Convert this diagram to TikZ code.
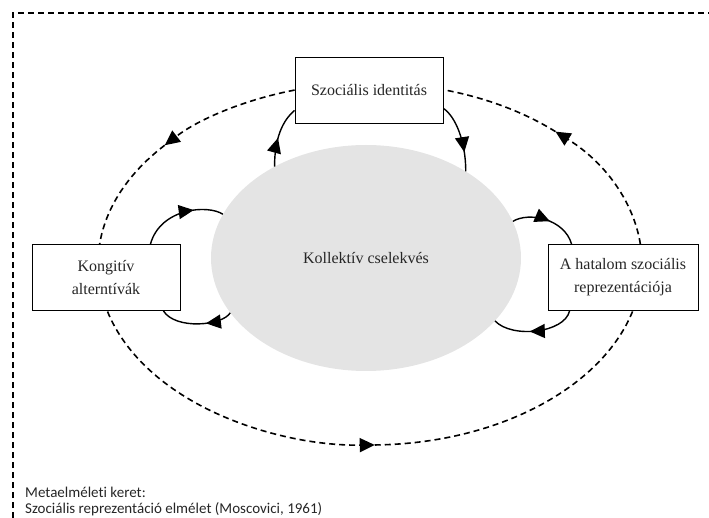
\documentclass[tikz,border=0pt]{standalone}
\usepackage{fontspec}
\setmainfont{Liberation Serif}
\newfontfamily\footfont[Ligatures={NoCommon}]{Carlito}
\usetikzlibrary{arrows.meta,decorations.markings,shapes.geometric}
\definecolor{kolgray}{HTML}{E4E4E4}
\tikzset{
  boxnode/.style={draw=black, line width=0.9pt, fill=white, minimum width=148pt,
    minimum height=66pt, inner sep=2pt, align=center, text=black!85,
    font=\fontsize{16}{23}\selectfont},
  framestyle/.style={dash pattern=on 6pt off 4pt, line width=1.6pt},
  dashline/.style={dash pattern=on 6pt off 4pt, line width=1.6pt},
  dashtip/.style={-{Triangle[length=15pt,width=14pt]}},
  loopline/.style={line width=1.4pt},
  midarrow/.style={postaction={decorate}, decoration={markings,
    mark=at position #1 with {\arrow{Triangle[length=15pt,width=14pt]}}}},
  foottext/.style={anchor=base west, inner sep=0pt, text=black!85,
    font=\footfont\fontsize{15}{18}\selectfont},
}
\begin{document}
\begin{tikzpicture}[x=1pt,y=-1pt]
\useasboundingbox (0,0) rectangle (709,518);
% outer frame
\draw[framestyle] (13,518) -- (13,13) -- (709,13);
% outer dashed ellipse
\coordinate (oc) at (370,264);
\draw[dashline, dashtip] ([shift={(0:272pt and 181pt)}]oc)
  arc[start angle=0, end angle=47, x radius=272pt, y radius=181pt];
\draw[dashline, dashtip] ([shift={(47:272pt and 181pt)}]oc)
  arc[start angle=47, end angle=139, x radius=272pt, y radius=181pt];
\draw[dashline, dashtip] ([shift={(139:272pt and 181pt)}]oc)
  arc[start angle=139, end angle=271, x radius=272pt, y radius=181pt];
\draw[dashline] ([shift={(271:272pt and 181pt)}]oc)
  arc[start angle=271, end angle=360, x radius=272pt, y radius=181pt];
% central ellipse
\node[ellipse, fill=kolgray, minimum width=310pt, minimum height=226pt, inner sep=0pt,
  text=black!85, font=\fontsize{16}{20}\selectfont] (kol) at (366,258) {Kollektív cselekvés};
% boxes
\node[boxnode] (si) at (369,90) {Szociális identitás};
\node[boxnode] (ka) at (106,277.5) {Kongitív\\alterntívák};
\node[boxnode, minimum width=150pt] (hr) at (623,277.5) {A hatalom szociális\\reprezentációja};
% loops
\draw[loopline, midarrow=0.47] (kol.135) .. controls +(0,-28) and +(-12,10) .. ([yshift=13pt]si.south west);
\draw[loopline, midarrow=0.72] ([yshift=15pt]si.south east) .. controls +(12,8) and +(0,-30) .. (kol.41);
\draw[loopline, midarrow=0.66] ([xshift=-30pt]ka.north east) .. controls +(10,-36) and +(-15,-10) .. (kol.163);
\draw[loopline, midarrow=0.37] (kol.202) .. controls +(-8,13) and +(12,19) .. ([xshift=-17pt]ka.south east);
\draw[loopline, midarrow=0.54] (kol.14) .. controls +(16,-10) and +(-7,-25) .. ([xshift=24pt]hr.north west);
\draw[loopline, midarrow=0.56] ([xshift=22pt]hr.south west) .. controls +(-5,22) and +(17,18) .. (kol.334);
% footer
\node[foottext] (f1) at (25,497) {Metaelméleti keret:};
\node[foottext] (f2) at (25,513) {Szociális reprezentáció elmélet (Moscovici, 1961)};
\end{tikzpicture}
\end{document}
